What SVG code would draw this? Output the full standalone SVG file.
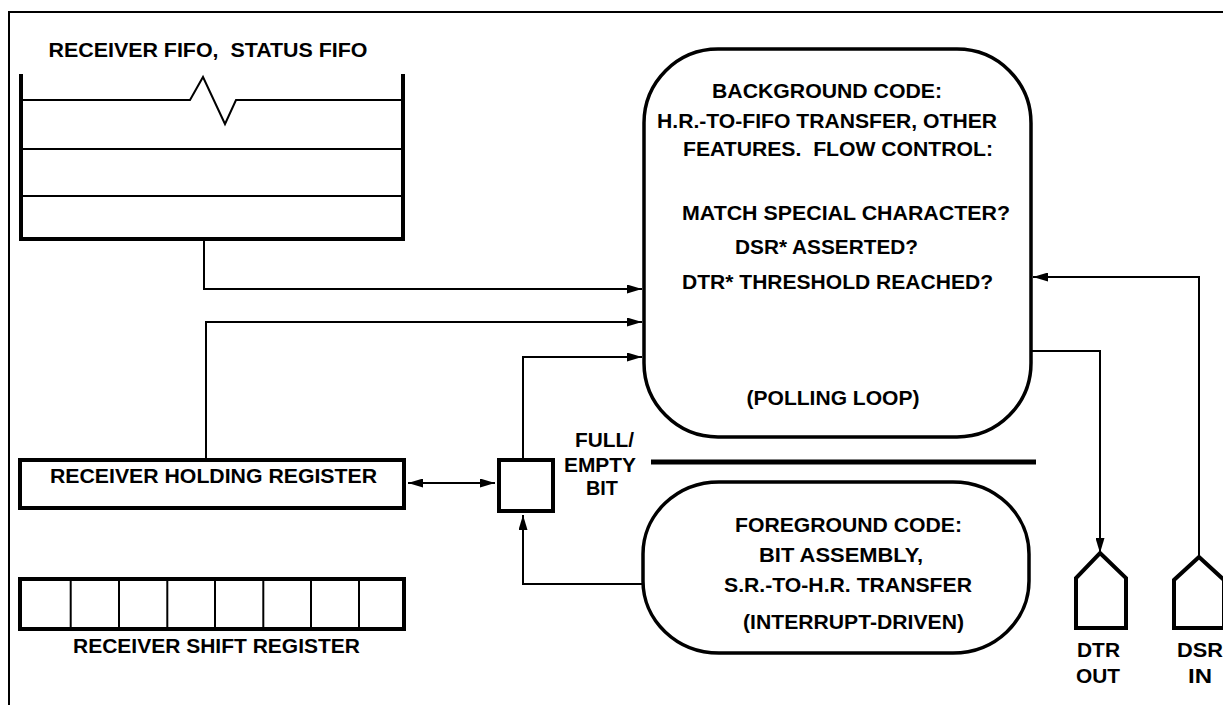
<svg xmlns="http://www.w3.org/2000/svg" width="1223" height="705" viewBox="0 0 1223 705">
<style>
text{font-family:"Liberation Sans",Arial,sans-serif;font-weight:bold;font-size:20px;fill:#000;text-anchor:middle;white-space:pre}
.thin{fill:none;stroke:#000;stroke-width:2}
.wall{fill:none;stroke:#000;stroke-width:4}
.box{fill:#fff;stroke:#000;stroke-width:4}
.rbox{fill:#fff;stroke:#000;stroke-width:3.5}
.conn{fill:none;stroke:#000;stroke-width:2}
</style>
<defs>
<marker id="ah" viewBox="0 0 15 9" refX="15" refY="4.5" markerWidth="15" markerHeight="9" markerUnits="userSpaceOnUse" orient="auto-start-reverse">
<path d="M0,0 L15,4.5 L0,9 z" fill="#000"/>
</marker>
</defs>
<rect width="1223" height="705" fill="#fff"/>
<g id="frame">
<polyline class="thin" points="9,705 9,12 1223,12"/>
</g>
<g id="fifo">
<text x="208" y="57" textLength="319" lengthAdjust="spacingAndGlyphs" xml:space="preserve">RECEIVER FIFO,  STATUS FIFO</text>
<polyline class="thin" points="23,100 190,100 203,77 225,124 236,100 401,100"/>
<line class="thin" x1="23" y1="149" x2="401" y2="149"/>
<line class="thin" x1="23" y1="196" x2="401" y2="196"/>
<polyline class="wall" points="21,74 21,239 403,239 403,74"/>
</g>
<g id="background">
<rect class="rbox" x="644" y="49" width="387" height="388" rx="74" ry="74"/>
<text x="827" y="98" textLength="230" lengthAdjust="spacingAndGlyphs">BACKGROUND CODE:</text>
<text x="827" y="128" textLength="340" lengthAdjust="spacingAndGlyphs">H.R.-TO-FIFO TRANSFER, OTHER</text>
<text x="838" y="156" textLength="310" lengthAdjust="spacingAndGlyphs" xml:space="preserve">FEATURES.  FLOW CONTROL:</text>
<text x="846" y="220" textLength="328" lengthAdjust="spacingAndGlyphs">MATCH SPECIAL CHARACTER?</text>
<text x="826.5" y="254" textLength="183" lengthAdjust="spacingAndGlyphs">DSR* ASSERTED?</text>
<text x="837.5" y="289" textLength="311" lengthAdjust="spacingAndGlyphs">DTR* THRESHOLD REACHED?</text>
<text x="833" y="405" textLength="173" lengthAdjust="spacingAndGlyphs">(POLLING LOOP)</text>
</g>
<g id="holding-register">
<rect class="box" x="20" y="460" width="384" height="48"/>
<text x="213.5" y="483" textLength="327" lengthAdjust="spacingAndGlyphs">RECEIVER HOLDING REGISTER</text>
</g>
<g id="shift-register">
<rect class="box" x="20" y="579" width="384" height="50"/>
<g class="thin">
<line x1="70.7" y1="581" x2="70.7" y2="627"/>
<line x1="119" y1="581" x2="119" y2="627"/>
<line x1="167.3" y1="581" x2="167.3" y2="627"/>
<line x1="215" y1="581" x2="215" y2="627"/>
<line x1="263.3" y1="581" x2="263.3" y2="627"/>
<line x1="311" y1="581" x2="311" y2="627"/>
<line x1="359" y1="581" x2="359" y2="627"/>
</g>
<text x="216.5" y="653" textLength="287" lengthAdjust="spacingAndGlyphs">RECEIVER SHIFT REGISTER</text>
</g>
<g id="full-empty-bit">
<rect class="box" x="499" y="460" width="54" height="51"/>
<text x="604.5" y="447" textLength="59" lengthAdjust="spacingAndGlyphs">FULL/</text>
<text x="600" y="472" textLength="72" lengthAdjust="spacingAndGlyphs">EMPTY</text>
<text x="602" y="495" textLength="32" lengthAdjust="spacingAndGlyphs">BIT</text>
</g>
<g id="divider">
<line x1="651" y1="462" x2="1036" y2="462" stroke="#000" stroke-width="5"/>
</g>
<g id="foreground">
<rect class="rbox" x="643" y="482" width="386" height="171" rx="76" ry="72"/>
<text x="848.5" y="532" textLength="227" lengthAdjust="spacingAndGlyphs">FOREGROUND CODE:</text>
<text x="841" y="562" textLength="164" lengthAdjust="spacingAndGlyphs">BIT ASSEMBLY,</text>
<text x="848" y="592" textLength="248" lengthAdjust="spacingAndGlyphs">S.R.-TO-H.R. TRANSFER</text>
<text x="853.5" y="629" textLength="221" lengthAdjust="spacingAndGlyphs">(INTERRUPT-DRIVEN)</text>
</g>
<g id="dtr-out">
<polygon class="wall" points="1100,553 1126,578 1126,628 1076,628 1076,578"/>
<text x="1098.5" y="657" textLength="43" lengthAdjust="spacingAndGlyphs">DTR</text>
<text x="1098" y="683" textLength="44" lengthAdjust="spacingAndGlyphs">OUT</text>
</g>
<g id="dsr-in">
<polygon class="wall" points="1199,557 1224,580 1224,628 1174,628 1174,580"/>
<text x="1200" y="657" textLength="46" lengthAdjust="spacingAndGlyphs">DSR</text>
<text x="1200" y="683" textLength="24" lengthAdjust="spacingAndGlyphs">IN</text>
</g>
<g id="connectors">
<polyline class="conn" points="204,241 204,289 642,289" marker-end="url(#ah)"/>
<polyline class="conn" points="206,458 206,322 642,322" marker-end="url(#ah)"/>
<polyline class="conn" points="523,458 523,357 642,357" marker-end="url(#ah)"/>
<line class="conn" x1="408" y1="483" x2="495" y2="483" marker-start="url(#ah)" marker-end="url(#ah)"/>
<polyline class="conn" points="643,584 523,584 523,515" marker-end="url(#ah)"/>
<polyline class="conn" points="1032,351 1100,351 1100,553" marker-end="url(#ah)"/>
<polyline class="conn" points="1199,557 1199,277 1033,277" marker-end="url(#ah)"/>
</g>
</svg>
